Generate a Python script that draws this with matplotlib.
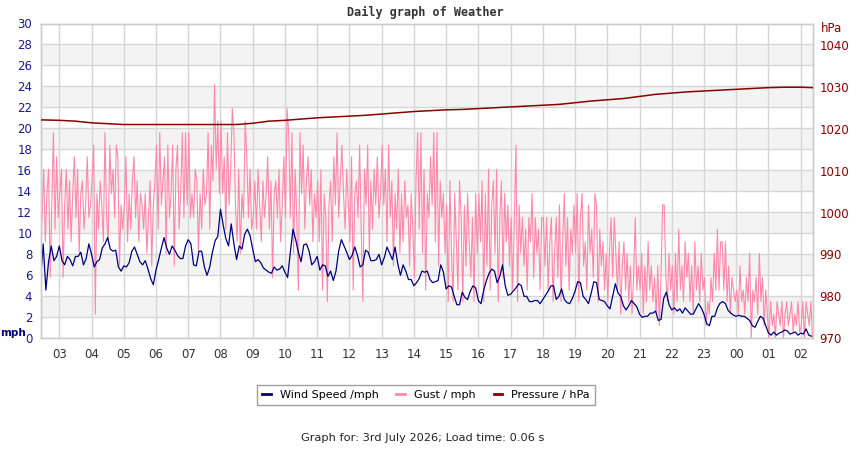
import numpy as np
import matplotlib
matplotlib.use("Agg")
import matplotlib.pyplot as plt
from matplotlib.lines import Line2D

# ---- data ----
# wind speed, mph, every 5 min from 02:25 to 02:20 next day
wind_start = 2 + 25 / 60
wind_step = 5 / 60
wind = [
    5.5, 9.0, 4.6, 7.3, 8.8, 7.4, 7.8,                                 # 02
    8.8, 7.4, 7.0, 7.8, 7.5, 6.9, 7.8, 7.8, 8.2, 7.0, 7.6, 9.0,          # 03
    8.0, 6.8, 7.3, 7.5, 8.6, 9.0, 9.6, 8.5, 8.3, 8.4, 6.8, 6.4,          # 04
    6.9, 6.8, 7.2, 8.3, 8.7, 8.0, 7.3, 7.0, 7.4, 6.6, 5.7, 5.1,          # 05
    6.5, 7.5, 8.6, 9.6, 8.6, 8.0, 8.8, 8.4, 7.9, 7.6, 7.6, 8.8,          # 06
    9.4, 9.0, 7.0, 6.9, 8.3, 8.3, 6.8, 6.0, 6.8, 8.2, 9.3, 9.7,          # 07
    12.3, 10.8, 9.5, 8.8, 10.9, 9.0, 7.5, 8.8, 8.5, 9.9, 10.4, 9.8,      # 08
    8.5, 7.3, 7.5, 7.2, 6.7, 6.5, 6.3, 6.2, 6.8, 6.5, 6.6, 6.9,          # 09
    6.3, 5.8, 8.2, 10.4, 9.4, 8.2, 7.3, 8.9, 9.0, 8.3, 7.0, 7.3,         # 10
    7.8, 6.5, 7.0, 6.9, 5.9, 6.4, 5.5, 6.4, 8.3, 9.4, 8.8, 8.2,          # 11
    7.5, 7.9, 8.7, 7.9, 6.8, 7.0, 8.4, 8.2, 7.4, 7.4, 7.5, 8.0,          # 12
    7.0, 7.7, 8.7, 8.1, 7.5, 8.7, 7.1, 6.0, 7.0, 6.4, 5.6, 5.6,          # 13
    5.0, 5.3, 5.7, 6.4, 6.3, 6.4, 5.6, 5.3, 5.4, 5.5, 7.0, 6.3,          # 14
    4.7, 5.0, 4.9, 4.0, 3.2, 3.2, 4.4, 3.9, 3.7, 4.5, 5.0, 4.8,          # 15
    3.6, 3.3, 4.6, 5.5, 6.2, 6.6, 6.4, 5.3, 5.9, 7.0, 5.0, 4.1,          # 16
    4.2, 4.5, 4.8, 5.2, 5.0, 4.0, 4.0, 3.5, 3.5, 3.6, 3.6, 3.3,          # 17
    3.7, 4.1, 4.5, 5.0, 5.0, 3.7, 4.0, 4.7, 3.7, 3.4, 3.3, 3.8,          # 18
    4.5, 5.4, 5.3, 4.0, 3.7, 3.3, 4.3, 5.4, 5.3, 3.7, 3.6, 3.5,          # 19
    3.1, 2.8, 4.0, 5.2, 4.3, 4.0, 3.1, 2.7, 3.1, 3.6, 3.3, 3.0,          # 20
    2.3, 2.0, 2.1, 2.1, 2.4, 2.4, 2.6, 1.7, 1.8, 3.8, 4.4, 3.2,          # 21
    2.7, 2.9, 2.6, 2.8, 2.4, 2.9, 2.6, 2.3, 2.3, 2.8, 3.3, 2.9,          # 22
    2.3, 1.4, 1.2, 2.1, 2.1, 2.9, 3.35, 3.5, 3.3, 2.65, 2.4, 2.2,        # 23
    2.1, 2.2, 2.1, 2.1, 1.9, 1.7, 1.2, 1.05, 1.6, 2.1, 1.9, 1.2,         # 00
    0.5, 0.3, 0.6, 0.3, 0.5, 0.6, 0.8, 0.7, 0.4, 0.5, 0.6, 0.3,          # 01
    0.5, 0.4, 0.9, 0.3, 0.2,                                             # 02
]

# gust, mph, every 3 min from 02:25 to 02:21 next day
gust_start = 2 + 25 / 60
gust_step = 3 / 60
gust = [
    9.2, 11.5, 16.1, 9.2, 13.8, 16.1, 5.8, 12.7, 19.6, 10.4, 17.3, 11.5,                          # 02
    13.8, 16.1, 5.8, 12.7, 16.1, 10.4, 15.0, 9.2, 13.8, 17.3, 11.5, 16.1, 8.1, 13.8, 15.0, 10.4, 12.7, 17.3, 11.5, 12.7,  # 03
    15.0, 18.4, 2.3, 13.8, 10.4, 15.0, 12.7, 9.2, 19.6, 11.5, 9.2, 18.4, 13.8, 16.1, 11.5, 18.4, 17.3, 6.9, 12.7, 10.4,   # 04
    12.7, 17.3, 9.2, 13.8, 10.4, 15.0, 17.3, 11.5, 15.0, 9.2, 13.8, 12.7, 10.4, 13.8, 8.1, 11.5, 15.0, 6.9, 12.7, 15.0,   # 05
    18.4, 10.4, 19.6, 12.7, 15.0, 17.3, 8.1, 18.4, 11.5, 13.8, 18.4, 6.9, 16.1, 18.4, 10.4, 13.8, 19.6, 11.5, 19.6, 12.7,  # 06
    19.6, 11.5, 13.8, 11.5, 16.1, 15.0, 8.1, 13.8, 10.4, 16.1, 12.7, 13.8, 19.6, 10.4, 18.4, 15.0, 24.2, 16.1, 20.7, 13.8,  # 07
    20.7, 13.8, 17.3, 10.4, 19.6, 12.7, 16.1, 21.9, 19.6, 12.7, 9.2, 16.1, 8.1, 13.8, 11.5, 20.7, 17.3, 11.5, 16.1, 10.4,  # 08
    11.5, 15.0, 10.4, 16.1, 12.7, 9.2, 15.0, 11.5, 13.8, 17.3, 10.4, 15.0, 5.8, 13.8, 15.0, 11.5, 16.1, 9.2, 12.7, 17.3,   # 09
    11.5, 21.9, 19.6, 11.5, 19.6, 8.1, 16.1, 11.5, 4.6, 19.6, 13.8, 18.4, 10.4, 15.0, 17.3, 12.7, 16.1, 9.2, 13.8, 11.5,   # 10
    15.0, 9.2, 16.1, 4.6, 13.8, 11.5, 3.5, 12.7, 15.0, 9.2, 17.3, 12.7, 19.6, 11.5, 15.0, 18.4, 13.8, 10.4, 16.1, 12.7,    # 11
    9.2, 17.3, 4.6, 13.8, 15.0, 11.5, 18.4, 10.4, 3.5, 16.1, 12.7, 18.4, 8.1, 15.0, 10.4, 16.1, 12.7, 17.3, 11.5, 13.8,    # 12
    18.4, 12.7, 16.1, 9.2, 18.4, 11.5, 15.0, 6.9, 13.8, 10.4, 16.1, 8.1, 13.8, 9.2, 15.0, 11.5, 12.7, 6.9, 13.8, 10.4,     # 13
    5.8, 15.0, 19.6, 10.4, 19.6, 8.1, 16.1, 4.6, 13.8, 11.5, 17.3, 12.7, 19.6, 9.2, 19.6, 6.9, 15.0, 11.5, 13.8, 8.1,      # 14
    12.7, 3.5, 15.0, 8.1, 3.5, 13.8, 9.2, 4.6, 15.0, 11.5, 3.5, 12.7, 6.9, 13.8, 9.2, 5.8, 11.5, 3.5, 13.8, 8.1,           # 15
    13.8, 9.2, 15.0, 3.5, 13.8, 6.9, 16.1, 4.6, 12.7, 15.0, 8.1, 16.1, 3.5, 11.5, 15.0, 5.8, 13.8, 9.2, 12.7, 6.9,         # 16
    11.5, 4.6, 11.5, 18.4, 3.5, 12.7, 8.1, 11.5, 6.9, 10.4, 4.6, 11.5, 9.2, 13.8, 5.8, 11.5, 8.1, 10.4, 4.6, 11.5,         # 17
    11.5, 6.9, 11.5, 4.6, 9.2, 11.5, 3.5, 8.1, 11.5, 5.8, 12.7, 3.5, 9.2, 13.8, 6.9, 11.5, 4.6, 10.4, 8.1, 12.7,           # 18
    8.1, 13.8, 3.5, 11.5, 13.8, 6.9, 9.2, 4.6, 12.7, 8.1, 10.4, 5.8, 13.8, 12.7, 3.5, 10.4, 6.9, 9.2, 4.6, 8.1,            # 19
    3.5, 8.1, 11.5, 5.8, 11.5, 8.1, 4.6, 9.2, 2.3, 6.9, 9.2, 4.6, 8.1, 3.5, 6.9, 2.3, 5.8, 11.5, 4.6, 6.9,                 # 20
    4.6, 8.1, 2.3, 6.9, 3.5, 9.2, 4.6, 6.9, 3.5, 5.8, 2.3, 6.9, 1.2, 5.8, 12.7, 12.7, 5.8, 3.5, 8.1, 4.6,                  # 21
    6.9, 2.3, 8.1, 3.5, 10.4, 4.6, 6.9, 3.5, 9.2, 5.8, 8.1, 3.5, 6.9, 2.3, 9.2, 4.6, 6.9, 3.5, 8.1, 4.6,                   # 22
    5.8, 1.2, 3.5, 2.3, 5.8, 3.5, 8.1, 4.6, 10.4, 4.6, 9.2, 9.2, 4.6, 9.2, 3.5, 6.9, 2.3, 5.8, 4.6, 3.5,                   # 23
    4.6, 2.3, 6.9, 3.5, 4.6, 2.3, 5.8, 3.5, 8.1, 0.0, 4.6, 3.5, 5.8, 2.3, 8.1, 3.5, 5.8, 1.2, 4.6, 2.3,                    # 00
    0.0, 3.5, 1.2, 2.3, 0.0, 3.5, 2.3, 1.2, 3.5, 0.0, 2.3, 3.5, 1.2, 2.3, 3.5, 0.6, 2.3, 1.2, 3.5, 0.6,                    # 01
    1.2, 3.5, 0.0, 3.5, 2.3, 1.2, 3.5, 0.0,                                                                                # 02
]

# pressure, hPa, every 30 min from 02:30 (last reading held to the right edge)
pres_start = 2.5
pres_step = 0.5
pressure = [
    1022.1, 1022.0, 1021.8, 1021.4, 1021.2, 1021.0, 1021.0, 1021.0, 1021.0,
    1021.0, 1021.0, 1021.0, 1021.0, 1021.3, 1021.8, 1022.0, 1022.3, 1022.6,
    1022.8, 1023.0, 1023.2, 1023.5, 1023.8, 1024.1, 1024.3, 1024.5, 1024.6,
    1024.8, 1025.0, 1025.2, 1025.4, 1025.6, 1025.8, 1026.2, 1026.6, 1026.9,
    1027.2, 1027.7, 1028.2, 1028.5, 1028.8, 1029.0, 1029.2, 1029.4, 1029.6,
    1029.8, 1029.9, 1029.9, 1029.8,
]

hour_ticks = list(range(3, 27))
hour_labels = [f"{h % 24:02d}" for h in hour_ticks]

# ---- colours ----
c_wind = "#000080"
c_gust = "#ff88aa"
c_pres = "#8b0000"
c_grid = "#d6d6d6"
c_band = "#f3f3f3"

plt.rcParams["font.family"] = "DejaVu Sans"
plt.rcParams["font.size"] = 8.5

fig = plt.figure(figsize=(8.5, 4.5), dpi=100, facecolor="white")
ax = fig.add_axes([40.5 / 850, 1 - 338.3 / 450, 772 / 850, 314.8 / 450])
ax2 = ax.twinx()

x0, x1 = 2 + 25 / 60, 26 + 22 / 60

t_wind = wind_start + np.arange(len(wind)) * wind_step
t_gust = gust_start + np.arange(len(gust)) * gust_step
t_pres = pres_start + np.arange(len(pressure)) * pres_step
t_pres = np.clip(np.concatenate([[x0], t_pres]), x0, x1)
p_vals = np.concatenate([[pressure[0]], pressure])

ax.set_xlim(x0, x1)
ax.set_ylim(0, 30)
ax2.set_ylim(970, 1045.1)

# alternating bands every 2 mph
for lo in range(2, 30, 4):
    ax.axhspan(lo, lo + 2, color=c_band, zorder=0, lw=0)
for y in range(2, 30, 2):
    ax.axhline(y, color=c_grid, lw=1, zorder=0.5)
for h in hour_ticks:
    ax.axvline(h, color=c_grid, lw=1, zorder=0.5)

ax.plot(t_gust, gust, color=c_gust, lw=0.8, zorder=2)
ax.plot(t_wind, wind, color=c_wind, lw=0.9, zorder=3)
ax2.plot(t_pres, p_vals, color=c_pres, lw=1.1, zorder=3)

ax.set_yticks(range(0, 31, 2))
ax.tick_params(axis="y", length=0, pad=6, labelcolor="#1a1a8c", labelsize=8.5)
ax.set_xticks(hour_ticks)
ax.set_xticklabels(hour_labels)
ax.tick_params(axis="x", length=0, pad=7, labelcolor="#333333", labelsize=8.5)
ax2.set_yticks(range(970, 1041, 10))
ax2.tick_params(axis="y", length=0, pad=5, labelcolor=c_pres, labelsize=8.5)

for a in (ax, ax2):
    for s in a.spines.values():
        s.set_color("#cccccc")
        s.set_linewidth(1)

fig.text(425 / 850, 1 - 12 / 450, "Daily graph of Weather", ha="center", va="center",
         family="DejaVu Sans Mono", weight="bold", fontsize=8.5, color="#333333")
fig.text(0.5 / 850, 1 - 333 / 450, "mph", ha="left", va="center",
         weight="bold", fontsize=7.5, color=c_wind)
fig.text(832 / 850, 1 - 29 / 450, "hPa", ha="center", va="center",
         fontsize=8.5, color=c_pres)

handles = [Line2D([], [], color=c_wind, lw=2),
           Line2D([], [], color=c_gust, lw=2),
           Line2D([], [], color=c_pres, lw=2)]
leg = fig.legend(handles, ["Wind Speed /mph", "Gust / mph", "Pressure / hPa"],
                 loc="center", bbox_to_anchor=(426 / 850, 1 - 395 / 450), ncol=3,
                 handlelength=0.8, handletextpad=0.8, columnspacing=1.6,
                 fontsize=8, frameon=True, fancybox=False, edgecolor="#888888",
                 borderpad=0.45)
leg.get_frame().set_linewidth(1)

fig.text(423 / 850, 1 - 438 / 450, "Graph for: 3rd July 2026; Load time: 0.06 s",
         ha="center", va="center", fontsize=8.2, color="#222222")

fig.savefig("out.png", dpi=100, facecolor="white")
